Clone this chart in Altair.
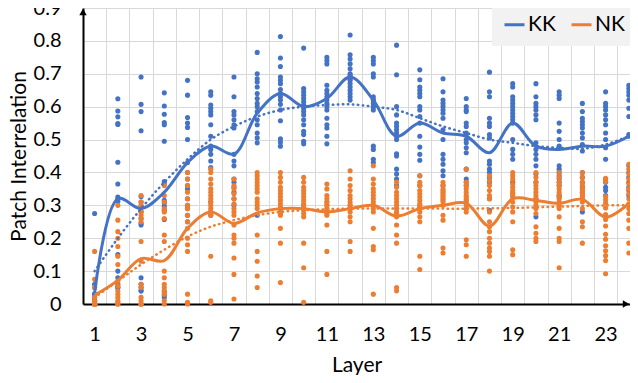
import altair as alt
import pandas as pd

layers = list(range(1, 25))
series_names = ["KK", "NK"]
series_colors = ["#4472C4", "#ED7D31"]

kk_points = [
    [0.275, 0.06, 0.05, 0.03, 0.03, 0.02, 0.01, 0.01, 0.01, 0.0, 0.0, 0.0, 0.0, 0.0, 0.0, 0.0],
    [0.624, 0.587, 0.569, 0.549, 0.546, 0.431, 0.365, 0.325, 0.319, 0.312, 0.15, 0.10, 0.08, 0.06, 0.05, 0.05],
    [0.69, 0.607, 0.585, 0.527, 0.327, 0.31, 0.297, 0.28, 0.26, 0.245, 0.24, 0.08, 0.06, 0.05, 0.04, 0.04],
    [0.642, 0.602, 0.577, 0.552, 0.545, 0.495, 0.372, 0.365, 0.315, 0.307, 0.297, 0.285, 0.257, 0.037, 0.027, 0.02],
    [0.68, 0.635, 0.567, 0.55, 0.537, 0.50, 0.43, 0.40, 0.38, 0.36, 0.35, 0.32, 0.30, 0.29, 0.27, 0.25],
    [0.645, 0.635, 0.605, 0.595, 0.585, 0.575, 0.545, 0.51, 0.48, 0.47, 0.455, 0.435, 0.415, 0.31, 0.28, 0.27],
    [0.69, 0.63, 0.585, 0.575, 0.56, 0.545, 0.535, 0.455, 0.435, 0.42, 0.38, 0.37, 0.355, 0.34, 0.32, 0.30],
    [0.765, 0.70, 0.685, 0.675, 0.66, 0.64, 0.625, 0.61, 0.60, 0.585, 0.56, 0.545, 0.52, 0.505, 0.49, 0.27],
    [0.813, 0.748, 0.722, 0.69, 0.68, 0.67, 0.652, 0.64, 0.63, 0.62, 0.607, 0.59, 0.557, 0.502, 0.492, 0.48],
    [0.778, 0.655, 0.645, 0.635, 0.625, 0.615, 0.605, 0.595, 0.585, 0.575, 0.56, 0.545, 0.525, 0.515, 0.495, 0.487],
    [0.75, 0.74, 0.73, 0.665, 0.65, 0.64, 0.63, 0.62, 0.61, 0.60, 0.59, 0.565, 0.545, 0.535, 0.51, 0.487],
    [0.818, 0.758, 0.745, 0.73, 0.715, 0.70, 0.69, 0.68, 0.67, 0.66, 0.65, 0.64, 0.63, 0.62, 0.685, 0.695],
    [0.75, 0.74, 0.73, 0.70, 0.69, 0.63, 0.62, 0.61, 0.60, 0.59, 0.48, 0.47, 0.44, 0.43, 0.62, 0.60],
    [0.787, 0.697, 0.60, 0.575, 0.55, 0.54, 0.53, 0.52, 0.51, 0.50, 0.457, 0.41, 0.395, 0.38, 0.36, 0.45],
    [0.712, 0.682, 0.66, 0.65, 0.64, 0.63, 0.60, 0.59, 0.57, 0.55, 0.51, 0.477, 0.455, 0.437, 0.39, 0.36],
    [0.685, 0.645, 0.62, 0.61, 0.60, 0.59, 0.58, 0.565, 0.53, 0.50, 0.455, 0.44, 0.425, 0.405, 0.39, 0.36],
    [0.625, 0.60, 0.59, 0.585, 0.55, 0.54, 0.52, 0.515, 0.50, 0.49, 0.475, 0.46, 0.41, 0.38, 0.37, 0.36],
    [0.705, 0.645, 0.63, 0.565, 0.55, 0.54, 0.515, 0.505, 0.435, 0.425, 0.41, 0.40, 0.385, 0.37, 0.32, 0.285],
    [0.67, 0.66, 0.63, 0.62, 0.61, 0.60, 0.59, 0.58, 0.57, 0.56, 0.55, 0.50, 0.47, 0.455, 0.44, 0.37],
    [0.67, 0.63, 0.61, 0.60, 0.59, 0.575, 0.56, 0.49, 0.47, 0.455, 0.44, 0.42, 0.395, 0.37, 0.32, 0.265],
    [0.645, 0.635, 0.625, 0.55, 0.525, 0.50, 0.48, 0.42, 0.41, 0.40, 0.39, 0.38, 0.37, 0.36, 0.33, 0.325],
    [0.61, 0.585, 0.565, 0.555, 0.545, 0.535, 0.52, 0.505, 0.485, 0.465, 0.40, 0.385, 0.37, 0.355, 0.34, 0.28],
    [0.645, 0.61, 0.60, 0.59, 0.575, 0.56, 0.545, 0.52, 0.50, 0.475, 0.44, 0.38, 0.37, 0.355, 0.345, 0.33],
    [0.665, 0.655, 0.645, 0.635, 0.62, 0.595, 0.57, 0.515, 0.51, 0.42, 0.40, 0.385, 0.37, 0.355, 0.345, 0.33],
]

nk_points = [
    [0.16, 0.075, 0.05, 0.02, 0.01, 0.005, 0.0, 0.0, 0.0, 0.0, 0.0, 0.0, 0.0, 0.0, 0.0, 0.0],
    [0.30, 0.255, 0.22, 0.20, 0.175, 0.145, 0.12, 0.07, 0.055, 0.04, 0.03, 0.02, 0.01, 0.005, 0.0, 0.0],
    [0.33, 0.31, 0.30, 0.28, 0.27, 0.26, 0.25, 0.19, 0.13, 0.06, 0.05, 0.02, 0.01, 0.0, 0.0, 0.0],
    [0.36, 0.33, 0.31, 0.29, 0.28, 0.26, 0.21, 0.19, 0.10, 0.08, 0.06, 0.05, 0.04, 0.03, 0.01, 0.0],
    [0.40, 0.38, 0.36, 0.34, 0.32, 0.30, 0.29, 0.27, 0.25, 0.23, 0.20, 0.18, 0.16, 0.03, 0.005, 0.0],
    [0.41, 0.40, 0.38, 0.365, 0.35, 0.34, 0.33, 0.32, 0.31, 0.30, 0.29, 0.28, 0.27, 0.145, 0.01, 0.005],
    [0.38, 0.36, 0.35, 0.335, 0.32, 0.305, 0.29, 0.28, 0.27, 0.24, 0.21, 0.20, 0.185, 0.14, 0.09, 0.015],
    [0.40, 0.39, 0.38, 0.37, 0.36, 0.35, 0.34, 0.32, 0.31, 0.30, 0.29, 0.21, 0.16, 0.13, 0.085, 0.05],
    [0.40, 0.385, 0.37, 0.355, 0.345, 0.335, 0.325, 0.315, 0.305, 0.295, 0.285, 0.275, 0.23, 0.185, 0.065, 0.27],
    [0.385, 0.37, 0.355, 0.345, 0.335, 0.325, 0.315, 0.305, 0.295, 0.285, 0.275, 0.265, 0.185, 0.11, 0.005, 0.30],
    [0.365, 0.35, 0.33, 0.32, 0.31, 0.30, 0.29, 0.285, 0.28, 0.275, 0.27, 0.24, 0.16, 0.09, 0.30, 0.31],
    [0.405, 0.38, 0.36, 0.345, 0.33, 0.32, 0.31, 0.30, 0.29, 0.28, 0.265, 0.25, 0.19, 0.16, 0.30, 0.29],
    [0.42, 0.38, 0.365, 0.35, 0.34, 0.33, 0.32, 0.31, 0.30, 0.29, 0.28, 0.23, 0.175, 0.165, 0.03, 0.30],
    [0.37, 0.355, 0.34, 0.33, 0.32, 0.31, 0.30, 0.29, 0.275, 0.265, 0.24, 0.21, 0.185, 0.05, 0.04, 0.28],
    [0.39, 0.37, 0.36, 0.345, 0.335, 0.325, 0.315, 0.305, 0.295, 0.28, 0.265, 0.25, 0.145, 0.105, 0.30, 0.29],
    [0.37, 0.36, 0.35, 0.345, 0.34, 0.335, 0.33, 0.325, 0.32, 0.315, 0.31, 0.27, 0.255, 0.17, 0.155, 0.30],
    [0.41, 0.37, 0.36, 0.35, 0.34, 0.33, 0.325, 0.32, 0.315, 0.31, 0.30, 0.29, 0.28, 0.195, 0.18, 0.145],
    [0.39, 0.375, 0.36, 0.345, 0.33, 0.32, 0.25, 0.235, 0.22, 0.20, 0.185, 0.17, 0.16, 0.145, 0.10, 0.28],
    [0.40, 0.39, 0.38, 0.365, 0.355, 0.345, 0.335, 0.325, 0.31, 0.295, 0.28, 0.25, 0.165, 0.15, 0.34, 0.33],
    [0.40, 0.385, 0.37, 0.36, 0.35, 0.34, 0.33, 0.32, 0.31, 0.30, 0.29, 0.275, 0.235, 0.215, 0.20, 0.19],
    [0.40, 0.385, 0.37, 0.36, 0.35, 0.34, 0.33, 0.32, 0.31, 0.30, 0.29, 0.265, 0.23, 0.20, 0.19, 0.11],
    [0.40, 0.385, 0.37, 0.36, 0.35, 0.345, 0.34, 0.335, 0.33, 0.325, 0.32, 0.31, 0.29, 0.25, 0.235, 0.185],
    [0.382, 0.372, 0.327, 0.317, 0.307, 0.292, 0.272, 0.257, 0.237, 0.212, 0.197, 0.177, 0.162, 0.147, 0.132, 0.092],
    [0.425, 0.41, 0.395, 0.38, 0.365, 0.35, 0.335, 0.32, 0.305, 0.29, 0.275, 0.255, 0.23, 0.185, 0.155, 0.30],
]

kk_mean = [0.033, 0.32, 0.29, 0.34, 0.43, 0.48, 0.456, 0.58, 0.64, 0.60, 0.625, 0.69,
           0.62, 0.51, 0.55, 0.52, 0.51, 0.46, 0.55, 0.48, 0.47, 0.48, 0.48, 0.51]
nk_mean = [0.027, 0.072, 0.138, 0.132, 0.23, 0.28, 0.245, 0.277, 0.29, 0.29, 0.28, 0.29,
           0.30, 0.267, 0.29, 0.30, 0.306, 0.237, 0.32, 0.315, 0.306, 0.318, 0.264, 0.306]

kk_trend = [0.10, 0.20, 0.29, 0.37, 0.44, 0.50, 0.54, 0.57, 0.59, 0.60, 0.605, 0.607,
            0.60, 0.59, 0.565, 0.54, 0.52, 0.50, 0.49, 0.48, 0.475, 0.472, 0.485, 0.51]
nk_trend = [0.02, 0.07, 0.12, 0.165, 0.205, 0.235, 0.255, 0.27, 0.28, 0.285, 0.288, 0.29,
            0.29, 0.29, 0.29, 0.29, 0.29, 0.291, 0.292, 0.294, 0.296, 0.298, 0.30, 0.30]

y_ticks = [0, 0.1, 0.2, 0.3, 0.4, 0.5, 0.6, 0.7, 0.8, 0.9]
x_labels = [1, 3, 5, 7, 9, 11, 13, 15, 17, 19, 21, 23]
x_grid = [l - 0.5 for l in layers]

FONT = "Lato"

rows = []
for name, pts in zip(series_names, [kk_points, nk_points]):
    for layer, vals in zip(layers, pts):
        for v in vals:
            rows.append({"layer": layer, "value": v, "series": name})
points_df = pd.DataFrame(rows)

mean_df = pd.DataFrame(
    [{"layer": l, "value": v, "series": "KK"} for l, v in zip(layers, kk_mean)]
    + [{"layer": l, "value": v, "series": "NK"} for l, v in zip(layers, nk_mean)]
)
trend_df = pd.DataFrame(
    [{"layer": l, "value": v, "series": "KK"} for l, v in zip(layers, kk_trend)]
    + [{"layer": l, "value": v, "series": "NK"} for l, v in zip(layers, nk_trend)]
)

x_scale = alt.Scale(domain=[0.5, 24.05], nice=False, zero=False)
y_scale = alt.Scale(domain=[0, 0.9], nice=False)
color_scale = alt.Scale(domain=series_names, range=series_colors)

legend = alt.Legend(
    title=None, orient="none", legendX=409, legendY=-6, direction="horizontal",
    fillColor="#F2F2F2", padding=11, symbolType="stroke", symbolSize=400,
    symbolStrokeWidth=3, symbolDash=[1, 0], labelFont=FONT, labelFontSize=21,
    labelColor="black", labelOffset=2, columnPadding=9,
)

y_axis = alt.Axis(
    values=y_ticks, tickCount=10, format=".1~f", grid=True, gridColor="#D9D9D9",
    gridWidth=1, ticks=False, tickSize=0, domain=True, domainColor="black",
    domainWidth=2, labelPadding=22, labelOverlap=False, labelFlush=False,
    title="Patch Interrelation", titlePadding=4,
)

x_grid_axis = alt.Axis(
    values=x_grid, grid=True, gridColor="#D9D9D9", gridWidth=1, labels=False,
    ticks=False, domain=False, title=None, orient="bottom",
)
x_label_axis = alt.Axis(
    values=x_labels, grid=False, ticks=False, tickSize=0, domain=True,
    domainColor="black", domainWidth=2, labelPadding=20, labelOverlap=False,
    labelFlush=False, title="Layer", titlePadding=10, orient="bottom",
)

pts = alt.Chart(points_df).mark_circle(size=26, opacity=1).encode(
    x=alt.X("layer:Q", scale=x_scale, axis=x_grid_axis),
    y=alt.Y("value:Q", scale=y_scale, axis=y_axis),
    color=alt.Color("series:N", scale=color_scale, legend=legend),
)

means = alt.Chart(mean_df).mark_line(interpolate="catmull-rom", strokeWidth=3).encode(
    x=alt.X("layer:Q", scale=x_scale, axis=x_label_axis),
    y=alt.Y("value:Q", scale=y_scale, axis=y_axis),
    color=alt.Color("series:N", scale=color_scale, legend=legend),
    detail="series:N",
)

trends = alt.Chart(trend_df).mark_line(
    interpolate="catmull-rom", strokeWidth=2.5, strokeDash=[0.5, 4.5], strokeCap="round"
).encode(
    x=alt.X("layer:Q", scale=x_scale, axis=None),
    y=alt.Y("value:Q", scale=y_scale, axis=y_axis),
    color=alt.Color("series:N", scale=color_scale, legend=legend),
    detail="series:N",
)

arrow_up = alt.Chart(pd.DataFrame({"a": [0]})).mark_point(
    shape="triangle-up", filled=True, size=55, color="black", opacity=1, yOffset=4
).encode(
    x=alt.X(datum=0.5, scale=x_scale, axis=None),
    y=alt.Y(datum=0.9, scale=y_scale, axis=y_axis),
)

arrow_right = alt.Chart(pd.DataFrame({"a": [0]})).mark_point(
    shape="triangle-right", filled=True, size=55, color="black", opacity=1, xOffset=-4
).encode(
    x=alt.X(datum=24.05, scale=x_scale, axis=None),
    y=alt.Y(datum=0, scale=y_scale, axis=y_axis),
)

chart = alt.layer(pts, trends, means, arrow_up, arrow_right).resolve_axis(
    x="independent"
).properties(
    width=547, height=296,
    autosize=alt.AutoSizeParams(type="none"),
    padding={"left": 75, "top": 0, "right": 0, "bottom": 71},
).configure_view(stroke=None).configure_axis(
    labelFont=FONT, labelFontSize=20, labelColor="black",
    titleFont=FONT, titleFontSize=21, titleFontWeight="normal", titleColor="black",
)

chart.save("out.html", embed_options={"renderer": "svg", "actions": False})
